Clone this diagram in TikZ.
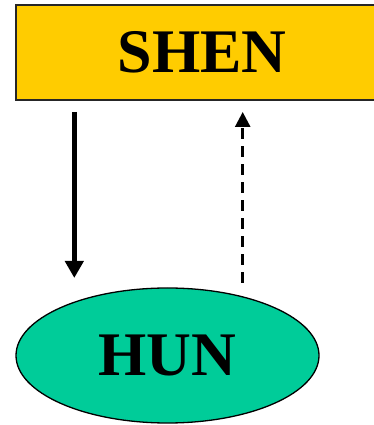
\documentclass[tikz,border=0pt]{standalone}
\usepackage{fontspec}
\setmainfont{Liberation Serif}
\usetikzlibrary{shapes.geometric,arrows.meta}
\definecolor{shenyellow}{HTML}{FFCC00}
\definecolor{hungreen}{HTML}{00CC99}
\tikzset{
  boxstyle/.style={draw=black!85, line width=2pt, fill=shenyellow, rectangle,
    minimum width=372pt, minimum height=95pt, inner sep=0pt,
    font=\fontsize{62}{62}\selectfont\bfseries},
  ellstyle/.style={draw=black, line width=1.3pt, fill=hungreen, ellipse,
    minimum width=303pt, minimum height=135pt, inner sep=0pt,
    font=\fontsize{62}{62}\selectfont\bfseries},
  solidarrow/.style={line width=5pt, -{Triangle[width=18pt,length=17pt]}},
  dasharrow/.style={line width=2.6pt, dash pattern=on 11pt off 7pt, -{Triangle[width=15pt,length=15pt]}}
}
\begin{document}
\begin{tikzpicture}[x=1pt,y=1pt]
\useasboundingbox (0,0) rectangle (373,425);
\node[boxstyle] (shen) at (202,372.5) {SHEN};
\node[ellstyle] (hun) at (167.5,69.5) {HUN};
\coordinate (s1) at (74.3,313);
\coordinate (s2) at (74.3,147);
\coordinate (d1) at (242.7,142);
\coordinate (d2) at (242.7,313);
\draw[solidarrow] (s1) -- (s2);
\draw[dasharrow] (d1) -- (d2);
\end{tikzpicture}
\end{document}
